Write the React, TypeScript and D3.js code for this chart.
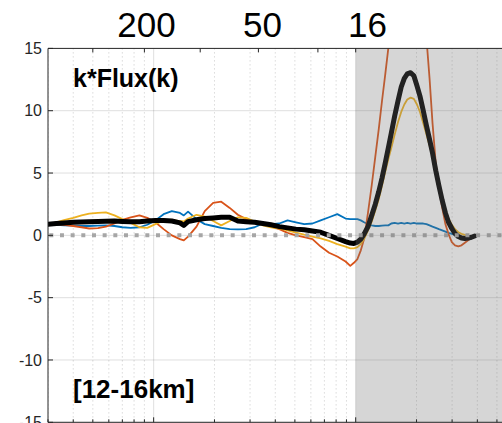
import React from 'react';
import * as d3 from 'd3';

const W = 502;
const H = 423;

// Horizontal wavenumber samples shared by every series
const wavenumber = [
  0.003, 0.0033, 0.0036, 0.004, 0.0044, 0.0048, 0.0053, 0.0058, 0.0064, 0.007,
  0.0077, 0.0085, 0.0093, 0.0102, 0.0112, 0.0123, 0.0135, 0.0141, 0.0148, 0.0163,
  0.0179, 0.0197, 0.0216, 0.0238, 0.0261, 0.0287, 0.0316, 0.0347, 0.0381, 0.0419,
  0.046, 0.0506, 0.0556, 0.0611, 0.0671, 0.0738, 0.0811, 0.0891, 0.094, 0.098,
  0.102, 0.106, 0.11, 0.115, 0.12, 0.125, 0.13, 0.135, 0.14, 0.145,
  0.15, 0.156, 0.162, 0.168, 0.174, 0.18, 0.187, 0.194, 0.201, 0.208,
  0.216, 0.224, 0.232, 0.24, 0.249, 0.258, 0.268, 0.278, 0.288, 0.299,
  0.31, 0.322, 0.334, 0.347, 0.36, 0.374, 0.388,
];

const fluxBlue: (number | null)[] = [
  0.88, 0.85, 0.8, 0.78, 0.75, 0.75, 0.78, 0.8, 0.75, 0.65,
  0.6, 0.65, 0.85, 1.2, 1.7, 1.95, 1.8, 1.6, 1.9, 1.3,
  0.9, 0.75, 0.6, 0.5, 0.48, 0.5, 0.65, 0.95, 0.9, 0.95,
  1.2, 1.05, 0.9, 0.95, 1.2, 1.45, 1.7, 1.35, 1.3, 1.3,
  1.3, 1.2, 1.05, 0.9, 0.8, 0.75, 0.75, 0.78, 0.8, 0.8,
  0.95, 1.0, 0.95, 1.0, 0.95, 1.0, 0.95, 1.0, 0.95, 0.95,
  0.95, 0.9, 0.8, 0.7, 0.6, 0.5, 0.4, 0.3, 0.2, 0.12,
  0.05, 0.0, null, null, null, null, null,
];

const fluxRed: (number | null)[] = [
  0.88, 0.88, 0.85, 0.75, 0.65, 0.55, 0.58, 0.7, 0.95, 1.25,
  1.45, 1.6, 1.4, 1.05, 0.5, 0.0, -0.3, -0.4, -0.1, 0.7,
  1.95, 2.6, 2.7, 2.2, 1.65, 1.3, 1.05, 0.9, 0.7, 0.5,
  0.2, 0.0, -0.15, -0.3, -0.9, -1.4, -1.7, -2.1, -2.45, -2.2,
  -1.9, -1.2, -0.3, 1.8, 4.0, 6.3, 8.5, 10.8, 12.9, 15.0,
  17.0, 19.5, 21.5, 23.0, 24.2, 24.8, 25.0, 24.6, 23.5, 21.5,
  19.0, 15.8, 12.6, 9.0, 5.8, 3.8, 2.2, 0.9, 0.1, -0.55,
  -0.8, -0.88, -0.8, -0.6, -0.4, -0.2, -0.05,
];

const fluxYellow: (number | null)[] = [
  0.88, 1.05, 1.22, 1.4, 1.6, 1.75, 1.8, 1.85, 1.6, 1.3,
  1.0, 0.65, 0.6, 0.9, 1.2, 1.25, 1.15, 1.12, 1.35, 1.65,
  1.5, 1.15, 0.8, 1.15, 1.45, 1.4, 1.1, 0.8, 0.65, 0.55,
  0.4, 0.22, 0.05, -0.1, -0.25, -0.45, -0.7, -0.9, -1.05, -1.05,
  -0.95, -0.7, -0.3, 0.4, 1.1, 2.0, 2.9, 4.0, 5.1, 6.1,
  7.0, 8.1, 9.1, 9.9, 10.5, 10.9, 11.05, 10.95, 10.5, 9.9,
  9.0, 8.1, 7.2, 6.3, 5.2, 4.2, 3.1, 2.1, 1.35, 0.85,
  0.5, 0.25, 0.12, 0.04, 0.0, null, null,
];

const fluxBlack: (number | null)[] = [
  0.88, 0.95, 1.0, 1.05, 1.08, 1.1, 1.12, 1.14, 1.15, 1.12,
  1.1, 1.1, 1.15, 1.2, 1.2, 1.15, 1.0, 0.8, 1.1, 1.25,
  1.35, 1.4, 1.45, 1.45, 1.15, 1.1, 1.05, 0.95, 0.85, 0.7,
  0.6, 0.5, 0.45, 0.35, 0.25, 0.0, -0.25, -0.5, -0.62, -0.65,
  -0.55, -0.3, 0.1, 0.7, 1.6, 2.5, 3.5, 4.6, 5.8, 7.0,
  8.2, 9.6, 10.8, 11.9, 12.6, 12.95, 13.05, 12.8, 12.0, 11.17,
  10.0, 8.8, 7.7, 6.6, 5.2, 4.0, 2.8, 1.8, 1.05, 0.55,
  0.15, -0.1, -0.22, -0.25, -0.22, -0.15, -0.05,
];

const yTicks = [-15, -10, -5, 0, 5, 10, 15];

// Wavelength axis along the top: tick wavenumbers and labelled positions
const topTickK = [0.005, 0.009, 0.017, 0.033, 0.065, 0.1];
const topLabels = ['200', '50', '16'];
const topLabelK = [0.00922, 0.0346, 0.1144];

// Shaded band begins at this wavenumber and runs to the right edge
const shadeStartK = 0.1;

const FONT = '"Liberation Sans", Arial, Helvetica, sans-serif';
const AXIS = '#262626';

export default function App() {
  const left = 48;
  const top = 48.4;
  const bottom = 422.3;
  const right = W;

  const x = d3.scaleLog().domain([0.003, 0.1]).range([left, 355.7]);
  const y = d3.scaleLinear().domain([-15, 15]).range([bottom, top]);

  const kMax = x.invert(right);
  const minorK: number[] = [];
  const majorK: number[] = [];
  [0.001, 0.01, 0.1, 1].forEach((d) => {
    for (let m = 1; m <= 9; m++) {
      const k = m * d;
      if (k < 0.003 - 1e-9 || k > kMax) continue;
      if (m === 1) majorK.push(k);
      else minorK.push(k);
    }
  });

  const idx = wavenumber.map((_, i) => i);
  const lineFor = (vals: (number | null)[]) =>
    d3
      .line<number>()
      .defined((i) => vals[i] != null)
      .x((i) => x(wavenumber[i]))
      .y((i) => y(vals[i] as number))(idx) || '';

  const series = [
    { vals: fluxBlue, color: '#0072BD', width: 1.8 },
    { vals: fluxRed, color: '#D95319', width: 1.8 },
    { vals: fluxYellow, color: '#EDB120', width: 1.8 },
    { vals: fluxBlack, color: '#000000', width: 5 },
  ];

  const gridStroke = 'rgba(38,38,38,0.15)';
  const minorGridStroke = 'rgba(38,38,38,0.25)';

  return (
    <svg
      width={W}
      height={H}
      style={{ position: 'absolute', left: 0, top: 0, background: '#fff' }}
      fontFamily={FONT}
    >
      <defs>
        <clipPath id="plot-clip">
          <rect x={left} y={top} width={right - left} height={bottom - top} />
        </clipPath>
      </defs>

      <rect x={0} y={0} width={W} height={H} fill="#fff" />

      <g clipPath="url(#plot-clip)">
        {/* grid */}
        {minorK.map((k) => (
          <line
            key={'mg' + k}
            x1={x(k)}
            x2={x(k)}
            y1={top}
            y2={bottom}
            stroke={minorGridStroke}
            strokeWidth={1}
            strokeDasharray="1 3"
          />
        ))}
        {majorK.map((k) => (
          <line key={'Mg' + k} x1={x(k)} x2={x(k)} y1={top} y2={bottom} stroke={gridStroke} strokeWidth={1} />
        ))}
        {yTicks.map((t) => (
          <line key={'hg' + t} x1={left} x2={right} y1={y(t)} y2={y(t)} stroke={gridStroke} strokeWidth={1} />
        ))}

        {/* flux curves */}
        {series.map((s, i) => (
          <path
            key={i}
            d={lineFor(s.vals)}
            fill="none"
            stroke={s.color}
            strokeWidth={s.width}
            strokeLinejoin="round"
            strokeLinecap="round"
          />
        ))}

        {/* zero reference */}
        <line
          x1={left + 1.3}
          x2={right}
          y1={y(0)}
          y2={y(0)}
          stroke="#a6a6a6"
          strokeWidth={4}
          strokeDasharray="4 6.67"
        />

        {/* shaded wavenumber band */}
        <rect
          x={x(shadeStartK)}
          y={top}
          width={right - x(shadeStartK)}
          height={bottom - top}
          fill="rgb(115,115,115)"
          fillOpacity={0.294}
        />
      </g>

      {/* axes */}
      <line x1={left} x2={right} y1={top} y2={top} stroke={AXIS} strokeWidth={1} />
      <line x1={left} x2={right} y1={bottom} y2={bottom} stroke={AXIS} strokeWidth={1} />
      <line x1={left} x2={left} y1={top} y2={bottom} stroke={AXIS} strokeWidth={1} />

      {yTicks.map((t) => (
        <g key={'yt' + t}>
          <line x1={left} x2={left + 5} y1={y(t)} y2={y(t)} stroke={AXIS} strokeWidth={1} />
          <text x={42} y={y(t)} dy="0.35em" textAnchor="end" fontSize={16} fill={AXIS}>
            {t}
          </text>
        </g>
      ))}

      {[...majorK, ...minorK].map((k) => (
        <line
          key={'bt' + k}
          x1={x(k)}
          x2={x(k)}
          y1={bottom}
          y2={bottom - (majorK.includes(k) ? 5 : 3)}
          stroke={AXIS}
          strokeWidth={1}
        />
      ))}

      {topTickK.map((k) => (
        <line key={'tt' + k} x1={x(k)} x2={x(k)} y1={top} y2={top + 4} stroke={AXIS} strokeWidth={1} />
      ))}
      {topLabels.map((lab, i) => (
        <text key={'tl' + lab} x={x(topLabelK[i])} y={37} textAnchor="middle" fontSize={35} fill="#000">
          {lab}
        </text>
      ))}

      <text x={73} y={87} fontSize={25} fontWeight="bold" fill="#000">
        k*Flux(k)
      </text>
      <text x={73} y={398} fontSize={26} fontWeight="bold" fill="#000">
        [12-16km]
      </text>
    </svg>
  );
}
